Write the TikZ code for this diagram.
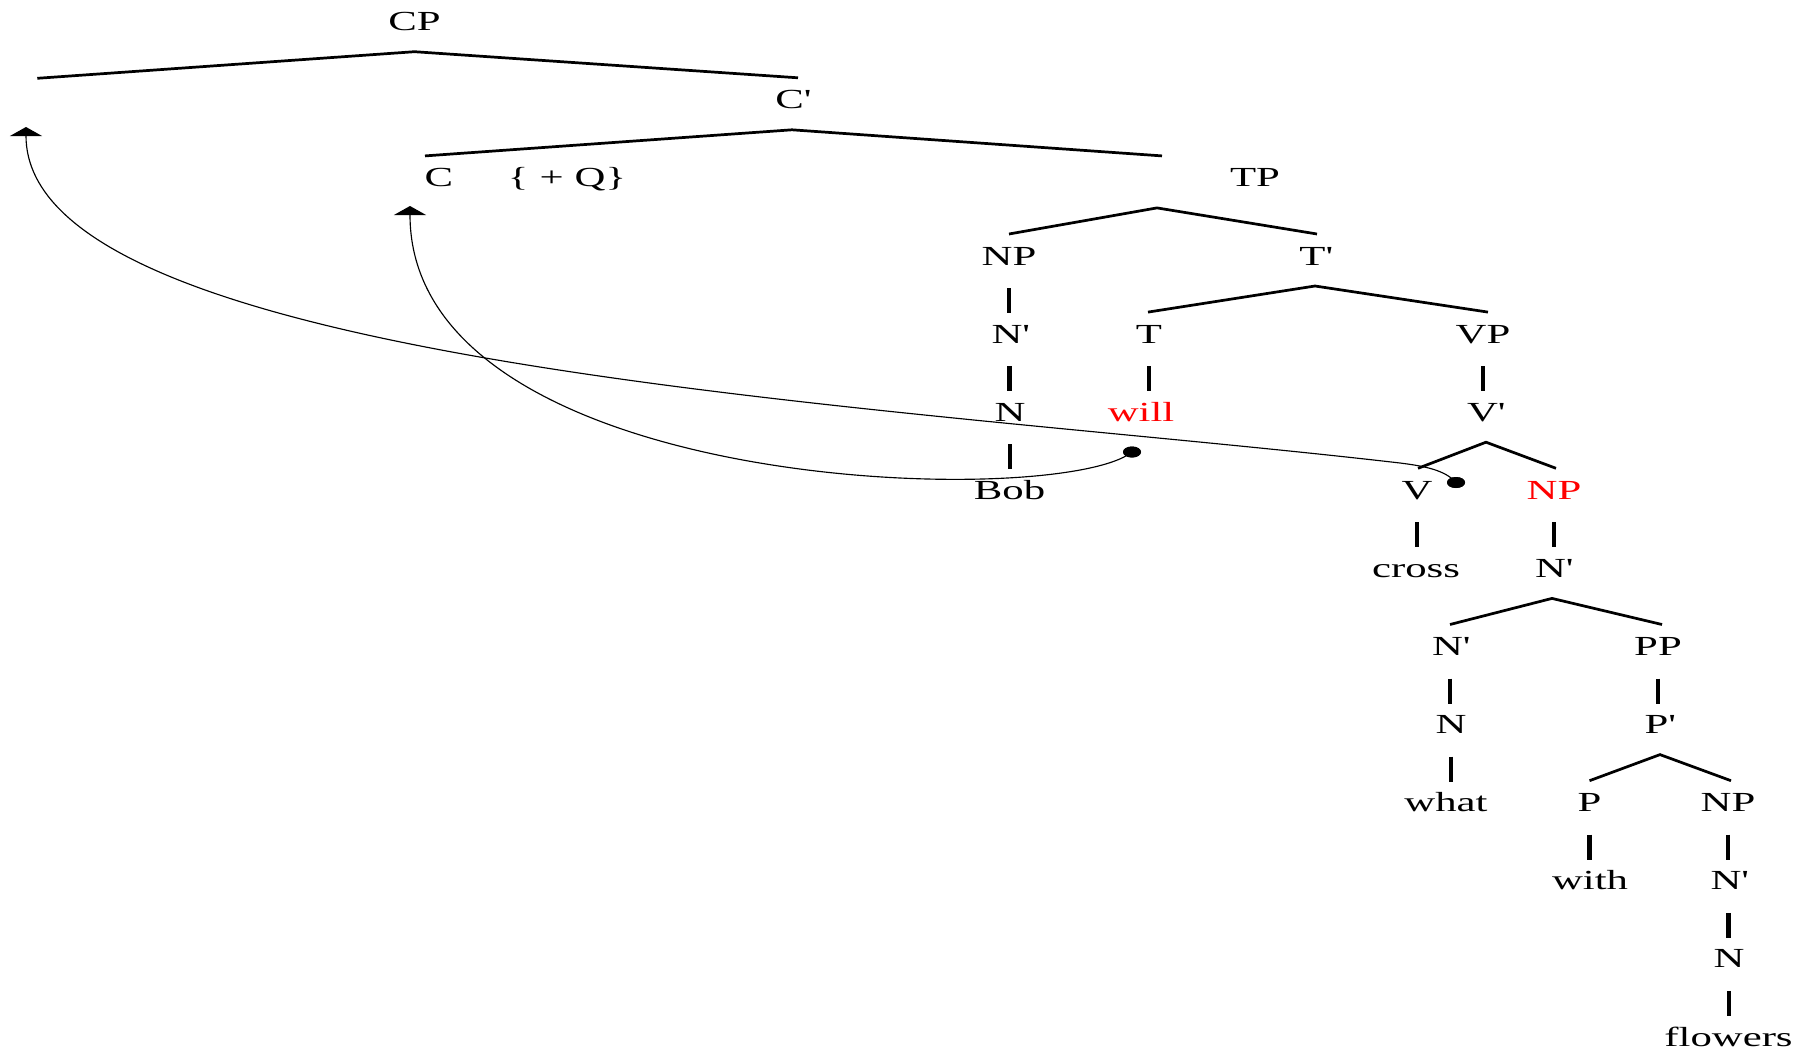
\documentclass[tikz,border=0pt]{standalone}
\usepackage{fontspec}
\newfontfamily\lbf{Liberation Serif}[FakeStretch=1.55]
\usetikzlibrary{arrows.meta,calc,shapes.geometric}
\begin{document}
\begin{tikzpicture}[x=0.02cm,y=-0.02cm,
  lbl/.style={anchor=base,inner sep=0pt,font=\lbf\fontsize{15.7}{18}\selectfont},
  redl/.style={lbl,text=red},
  branch/.style={line width=1.55pt,line join=miter},
  stem/.style={line width=2.6pt},
  mv/.style={line width=0.65pt},
  tip/.style={-{Triangle[width=0.64cm,length=0.18cm]}},
  dot/.style={ellipse,fill=black,draw=none,inner sep=0pt,minimum width=0.36cm,minimum height=0.22cm}]
\useasboundingbox (0,0) rectangle (1813,1052);

% labels
\node[lbl] (cp) at (414.5,30.7) {CP};
\node[lbl] (cbar) at (792,108.8) {C\textquotesingle};
\node[lbl] (c) at (439,186.9) {C};
\node[lbl] (q) at (567,186.9) {\{\hspace{0.4em}+\hspace{0.4em}Q\}};
\node[lbl] (tp) at (1255,186.9) {TP};
\node[lbl] (np1) at (1009,265) {NP};
\node[lbl] (tbar) at (1315,265) {T\textquotesingle};
\node[lbl] (nbar1) at (1009.5,343.1) {N\textquotesingle};
\node[lbl] (t) at (1149,343.1) {T};
\node[lbl] (vp) at (1483,343.1) {VP};
\node[lbl] (n1) at (1010,421.2) {N};
\node[redl] (will) at (1141,421.2) {will};
\node[lbl] (vbar) at (1485,421.2) {V\textquotesingle};
\node[lbl] (bob) at (1009.5,499.3) {Bob};
\node[lbl] (v) at (1417,499.3) {V};
\node[redl] (np2) at (1554,499.3) {NP};
\node[lbl] (cross) at (1416,577.4) {cross};
\node[lbl] (nbar2) at (1553,577.4) {N\textquotesingle};
\node[lbl] (nbar3) at (1450,655.5) {N\textquotesingle};
\node[lbl] (pp) at (1658,655.5) {PP};
\node[lbl] (n3) at (1451,733.6) {N};
\node[lbl] (pbar) at (1659,733.6) {P\textquotesingle};
\node[lbl] (what) at (1446,811.7) {what};
\node[lbl] (p) at (1589.5,811.7) {P};
\node[lbl] (np3) at (1728,811.7) {NP};
\node[lbl] (with) at (1590,889.8) {with};
\node[lbl] (nbar4) at (1728.5,889.8) {N\textquotesingle};
\node[lbl] (n4) at (1729,967.9) {N};
\node[lbl] (flowers) at (1728.5,1046) {flowers};

\coordinate (spec) at (37.3,78.3);
\coordinate (cparrow) at (26,127);
\coordinate (carrow) at (410,206);

% branches
\draw[branch] (spec) -- ($(cp.base)+(0,21)$) -- ($(cbar.base)+(6,-31)$);
\draw[branch] ($(c.base)+(-14,-31)$) -- ($(cbar.base)+(0,21)$) -- ($(tp.base)+(-93,-31)$);
\draw[branch] ($(np1.base)+(0,-31)$) -- ($(tp.base)+(-98,21)$) -- ($(tbar.base)+(2,-31)$);
\draw[branch] ($(t.base)+(-1,-31)$) -- ($(tbar.base)+(0,21)$) -- ($(vp.base)+(5,-31)$);
\draw[branch] ($(v.base)+(1,-31)$) -- ($(vbar.base)+(1,21)$) -- ($(np2.base)+(2,-31)$);
\draw[branch] ($(nbar3.base)+(0,-31)$) -- ($(nbar2.base)+(-1,21)$) -- ($(pp.base)+(4,-31)$);
\draw[branch] ($(p.base)+(0,-31)$) -- ($(pbar.base)+(1,21)$) -- ($(np3.base)+(3,-31)$);

% unary stems
\foreach \a/\b in {np1/nbar1,nbar1/n1,n1/bob,t/will,vp/vbar,v/cross,np2/nbar2,
  nbar3/n3,n3/what,pp/pbar,p/with,np3/nbar4,nbar4/n4,n4/flowers}
  \draw[stem] ($(\a.base)+(0,23)$) -- ($(\a.base |- \b.base)+(0,-30)$);

% movement arrows
\node[dot] (d1) at (1132,452) {};
\node[dot] (d2) at (1456,482.5) {};
\draw[mv,tip] (d1.center) .. controls (1060,510) and (410,495) .. (carrow);
\draw[mv,tip] (d2.center) .. controls (1445,470) and (1424,466) .. (1400,463)
  .. controls (900,405) and (26,368) .. (cparrow);
\node[dot] at (d1) {};
\node[dot] at (d2) {};
\end{tikzpicture}
\end{document}
